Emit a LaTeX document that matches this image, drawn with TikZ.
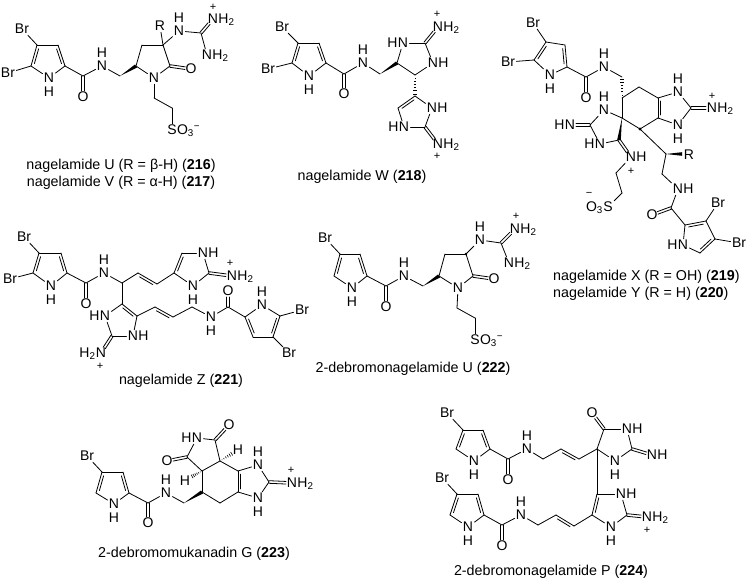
\documentclass[tikz,border=0pt]{standalone}
\usepackage{fontspec}
\setmainfont{Liberation Sans}
\usetikzlibrary{calc,positioning}
\newcommand{\atomfont}{\fontsize{14}{16}\selectfont}
\newcommand{\capfont}{\fontsize{14.3}{16}\selectfont}
\tikzset{
    bond/.style={line width=0.8pt,line cap=round,line join=round},
    atom/.style={inner sep=1.2pt,font=\atomfont},
    tail/.style={atom,anchor=base west,inner xsep=0pt,xshift=-1.2pt},
    head/.style={atom,anchor=base east,inner xsep=0pt,xshift=1.2pt},
    charge/.style={inner sep=0pt,font=\fontsize{11}{12}\selectfont},
    caption/.style={inner sep=0pt,font=\capfont}
}
% carbons and bond types
\newcommand{\atoms}[1]{\foreach \nm/\cx/\cy in {#1}{\coordinate (\nm) at (\cx,\cy);}}
\newcommand{\bonds}[1]{\foreach \pa/\pb in {#1}{\draw[bond] (\pa) -- (\pb);}}
\newcommand{\dbl}[2]{\draw[bond] (#1) -- (#2);
    \draw[bond] ($(#1)!.15!(#2)!2.6pt!90:(#2)$) -- ($(#2)!.15!(#1)!2.6pt!-90:(#1)$);}
\newcommand{\dblc}[2]{\draw[bond,shorten >=6pt] ($(#1)!1.3pt!90:(#2)$) -- ($(#2)!1.3pt!-90:(#1)$);
    \draw[bond,shorten >=6pt] ($(#1)!1.3pt!-90:(#2)$) -- ($(#2)!1.3pt!90:(#1)$);}
\newcommand{\wedgeb}[2]{\fill (#1) -- ($(#2)!1.8pt!90:(#1)$) -- ($(#2)!1.8pt!-90:(#1)$) -- cycle;}
\newcommand{\hashb}[2]{\foreach \t in {.15,.3,.45,.6,.75,.9}{\draw[line width=0.6pt]
    ($(#1)!\t!(#2)!\t*2.2pt!90:(#1)$) -- ($(#1)!\t!(#2)!\t*2.2pt!-90:(#1)$);}}
% nitrogen labels
\newcommand{\NHup}[2]{\node[atom] (#1) at (#2) {N}; \node[atom,above=1pt of #1] (#1h) {H};}
\newcommand{\NHdn}[2]{\node[atom] (#1) at (#2) {N}; \node[atom,below=1pt of #1] (#1h) {H};}
\newcommand{\NHr}[2]{\node[atom] (#1) at (#2) {N}; \node[tail] (#1h) at (#1.base east) {H};}
\newcommand{\NHl}[2]{\node[atom] (#1) at (#2) {N}; \node[head] (#1h) at (#1.base west) {H};}
\newcommand{\NHtwo}[2]{\node[atom] (#1) at (#2) {N}; \node[tail] (#1h) at (#1.base east) {H\textsubscript{2}};}
\begin{document}
\begin{tikzpicture}[x=1pt,y=-1pt]
    \useasboundingbox (0,0) rectangle (748,583);
    % --- nagelamide U/V ---
    \atoms{u1/37/45,u2/58/45,u3/65/66,u4/31/66,u5/83/76,u6/120/76,u7/136/66,u8/142/45,
        u9/163/45,u10/170/66,u11/154/98,u12/172/108,u14/201/33}
    \node[atom] (uBr1) at (22,29) {Br};
    \node[atom] (uBr2) at (8,73) {Br};
    \NHdn{uN1}{49,78}
    \node[atom] (uO1) at (83,97) {O};
    \NHup{uN2}{102,66}
    \node[atom] (uN3) at (154,78) {N};
    \node[atom] (uO2) at (191,69) {O};
    \node[atom] (uS) at (172,130) {S};
    \node[tail] (uSt) at (uS.base east) {O\textsubscript{3}\textsuperscript{−}};
    \node[atom] (uR) at (160,26) {R};
    \NHup{uN4}{179,31}
    \NHtwo{uN5}{213,19}
    \node[charge] (uP) at (213,7) {+};
    \NHtwo{uN6}{207,55}
    \bonds{u1/u2,u4/uN1,uN1/u3,u1/uBr1,u4/uBr2,u3/u5,u5/uN2,uN2/u6,u7/u8,u8/u9,u9/u10,
        u10/uN3,uN3/u7,uN3/u11,u11/u12,u12/uS,u9/uR,u9/uN4,uN4/u14,u14/uN6}
    \dbl{u1}{u4} \dbl{u3}{u2}
    \dblc{u5}{uO1} \dblc{u10}{uO2} \dblc{u14}{uN5}
    \wedgeb{u6}{u7}
    \node[caption] (cap216) at (121,166) {nagelamide U (R = β-H) (\textbf{216})};
    \node[caption] (cap217) at (121,183) {nagelamide V (R = α-H) (\textbf{217})};
    % --- nagelamide W ---
    \atoms{w1/298/43,w2/319/43,w3/326/63,w4/292/63,w5/344/74,w6/380/74,w7/397/63,w8/425/43,
        w9/415/75,w10/415/96,w11/398/108,w12/425/127}
    \node[atom] (wBr1) at (282,27) {Br};
    \node[atom] (wBr2) at (268,69) {Br};
    \NHdn{wN1}{309,76}
    \node[atom] (wO1) at (344,94) {O};
    \NHup{wN2}{363,63}
    \NHl{wN3}{403,43}
    \NHr{wN4}{433,63}
    \NHtwo{wN5}{438,27}
    \node[charge] (wP1) at (437,14) {+};
    \NHr{wN6}{432,108}
    \NHl{wN7}{404,127}
    \NHtwo{wN8}{438,144}
    \node[charge] (wP2) at (437,156) {+};
    \bonds{w1/w2,w4/wN1,wN1/w3,w1/wBr1,w4/wBr2,w3/w5,w5/wN2,wN2/w6,w7/wN3,wN3/w8,w8/wN4,
        wN4/w9,w9/w7,w10/wN6,wN6/w12,w12/wN7,wN7/w11}
    \dbl{w1}{w4} \dbl{w3}{w2} \dbl{w10}{w11}
    \dblc{w5}{wO1} \dblc{w8}{wN5} \dblc{w12}{wN8}
    \wedgeb{w6}{w7}
    \hashb{w9}{w10}
    \node[caption] (cap218) at (362,177) {nagelamide W (\textbf{218})};
    % --- nagelamide X/Y ---
    \atoms{x1/546/42,x2/565/45,x3/567/67,x4/534/60,x5/586/77,x6/622/77,x7/622/98,x8/639/87,
        x9/658/98,x10/658/118,x11/640/129,x12/622/118,x13/691/108,x14/590/125,x15/619/140,
        x16/616/173,x17/622/193,x18/666/154,x19/682/154,x20/662/174,x21/671/208,x22/685/225,
        x23/706/221,x24/715/239,x25/700/253}
    \node[atom] (xBr1) at (533,23) {Br};
    \node[atom] (xBr2) at (508,62) {Br};
    \NHdn{xN1}{550,75}
    \node[atom] (xO1) at (586,98) {O};
    \NHup{xN2}{604,67}
    \NHup{xN3}{678,92}
    \NHdn{xN4}{678,125}
    \NHtwo{xN5}{712,108}
    \node[charge] (xP1) at (712,96) {+};
    \NHup{xN6}{604,110}
    \NHl{xN7}{570,125}
    \NHl{xN8}{600,144}
    \NHr{xN9}{631,157}
    \node[charge] (xP2) at (631,171) {+};
    \node[atom] (xS) at (608,207) {S};
    \node[head] (xSh) at (xS.base west) {O\textsubscript{3}};
    \node[charge] (xM) at (589,194) {−};
    \node[atom] (xR) at (689,155) {R};
    \NHr{xN10}{678,189}
    \node[atom] (xO2) at (652,215) {O};
    \NHl{xN11}{683,245}
    \node[atom] (xBr3) at (718,203) {Br};
    \node[atom] (xBr4) at (739,243) {Br};
    \bonds{x1/x2,x4/xN1,xN1/x3,x1/xBr1,x4/xBr2,x3/x5,x5/xN2,xN2/x6,x7/x8,x8/x9,x10/x11,
        x11/x12,x12/x7,x9/xN3,xN3/x13,x13/xN4,xN4/x10,x12/xN6,xN6/x14,x14/xN8,xN8/x15,
        xN9/x16,x16/x17,x17/xS,x11/x18,x18/x20,x20/xN10,xN10/x21,x21/x22,x22/xN11,xN11/x25,
        x23/x24,x23/xBr3,x24/xBr4}
    \dbl{x1}{x4} \dbl{x3}{x2} \dbl{x9}{x10} \dbl{x25}{x24} \dbl{x23}{x22}
    \dblc{x5}{xO1} \dblc{x13}{xN5} \dblc{x14}{xN7} \dblc{x15}{xN9} \dblc{x21}{xO2}
    \wedgeb{x12}{x15} \wedgeb{x18}{x19}
    \hashb{x7}{x6}
    \fill (x11) circle (1.6pt);
    \node[caption,anchor=west] (cap219) at (553,277) {nagelamide X (R = OH) (\textbf{219})};
    \node[caption,anchor=west] (cap220) at (553,294) {nagelamide Y (R = H) (\textbf{220})};
    % --- nagelamide Z ---
    \atoms{z1/39/253,z2/61/253,z3/67/273,z4/33/273,z5/86/283,z6/122/283,z7/138/273,z8/157/284,
        z9/174/273,z10/182/253,z11/209/273,z12/122/304,z13/137/316,z14/112/336,z15/155/307,
        z16/173/317,z17/192/307,z18/228/307,z19/245/317,z20/253/337,z21/273/337,z22/280/316}
    \node[atom] (zBr1) at (24,237) {Br};
    \node[atom] (zBr2) at (10,279) {Br};
    \NHdn{zN1}{51,286}
    \node[atom] (zO1) at (86,304) {O};
    \NHup{zN2}{104,273}
    \NHr{zN3}{203,253}
    \NHdn{zN4}{193,286}
    \NHtwo{zN5}{232,276}
    \node[charge] (zP1) at (230,263) {+};
    \NHl{zN6}{105,316}
    \NHr{zN7}{133,336}
    \node[atom] (zN8) at (101,353) {N};
    \node[head] (zN8h) at (zN8.base west) {H\textsubscript{2}};
    \node[charge] (zP2) at (100,366) {+};
    \NHdn{zN9}{211,317}
    \node[atom] (zO2) at (228,291) {O};
    \NHup{zN10}{262,305}
    \node[atom] (zBr3) at (302,310) {Br};
    \node[atom] (zBr4) at (289,353) {Br};
    \bonds{z1/z2,z4/zN1,zN1/z3,z1/zBr1,z4/zBr2,z3/z5,z5/zN2,zN2/z6,z6/z7,z8/z9,z9/zN4,zN4/z11,
        z11/zN3,zN3/z10,z6/z12,z12/zN6,zN6/z14,z14/zN7,zN7/z13,z13/z15,z16/z17,z17/zN9,
        zN9/z18,z18/z19,z19/zN10,zN10/z22,z20/z21,z21/zBr4,z22/zBr3}
    \dbl{z1}{z4} \dbl{z3}{z2} \dbl{z8}{z7} \dbl{z10}{z9} \dbl{z13}{z12} \dbl{z16}{z15}
    \dbl{z19}{z20} \dbl{z21}{z22}
    \dblc{z5}{zO1} \dblc{z11}{zN5} \dblc{z14}{zN8} \dblc{z18}{zO2}
    \node[caption] (cap221) at (181,381) {nagelamide Z (\textbf{221})};
    % --- 2-debromonagelamide U ---
    \atoms{d1/340/254,d2/360/254,d3/367/276,d4/334/276,d5/386/286,d6/423/286,d7/439/276,
        d8/445/254,d9/466/254,d10/473/276,d11/457/308,d12/475/318,d13/501/243}
    \node[atom] (dBr) at (325,238) {Br};
    \NHdn{dN1}{352,288}
    \node[atom] (dO1) at (386,307) {O};
    \NHup{dN2}{404,276}
    \node[atom] (dN3) at (458,288) {N};
    \node[atom] (dO2) at (494,279) {O};
    \node[atom] (dS) at (475,340) {S};
    \node[tail] (dSt) at (dS.base east) {O\textsubscript{3}\textsuperscript{−}};
    \NHup{dN4}{480,240}
    \NHtwo{dN5}{515,229}
    \node[charge] (dP) at (516,216) {+};
    \NHtwo{dN6}{509,263}
    \bonds{d1/d2,d4/dN1,dN1/d3,d1/dBr,d3/d5,d5/dN2,dN2/d6,d7/d8,d8/d9,d9/d10,d10/dN3,dN3/d7,
        dN3/d11,d11/d12,d12/dS,d9/dN4,dN4/d13,d13/dN6}
    \dbl{d1}{d4} \dbl{d3}{d2}
    \dblc{d5}{dO1} \dblc{d10}{dO2} \dblc{d13}{dN5}
    \wedgeb{d6}{d7}
    \fill (d9) circle (1.4pt);
    \node[caption] (cap222) at (413,369) {2-debromonagelamide U (\textbf{222})};
    % --- 2-debromomukanadin G ---
    \atoms{g1/102/472,g2/123/472,g3/129/493,g4/96/493,g5/148/503,g6/184/503,g7/202/492,
        g8/220/503,g9/238/492,g10/238/471,g11/220/461,g12/202/471,g13/215/440,g14/187/457,
        g15/233/453,g16/269/482,g17/191/477}
    \node[atom] (gBr) at (87,456) {Br};
    \NHdn{gN1}{114,504}
    \node[atom] (gO1) at (148,523) {O};
    \NHup{gN2}{166,493}
    \NHl{gN3}{197,438}
    \node[atom] (gO2) at (167,461) {O};
    \node[atom] (gO3) at (229,425) {O};
    \node[atom] (gH1) at (238,450) {H};
    \node[atom] (gH2) at (185,481) {H};
    \NHup{gN4}{258,465}
    \NHdn{gN5}{258,498}
    \NHtwo{gN6}{292,483}
    \node[charge] (gP) at (291,470) {+};
    \bonds{g1/g2,g4/gN1,gN1/g3,g1/gBr,g3/g5,g5/gN2,gN2/g6,g7/g8,g8/g9,g10/g11,g11/g12,g12/g7,
        g11/g13,g13/gN3,gN3/g14,g14/g12,g10/gN4,gN4/g16,g16/gN5,gN5/g9}
    \dbl{g1}{g4} \dbl{g3}{g2} \dbl{g10}{g9}
    \dblc{g5}{gO1} \dblc{g14}{gO2} \dblc{g13}{gO3} \dblc{g16}{gN6}
    \wedgeb{g6}{g7}
    \hashb{g11}{g15} \hashb{g12}{g17}
    \node[caption] (cap223) at (194,554) {2-debromomukanadin G (\textbf{223})};
    % --- 2-debromonagelamide P ---
    \atoms{p1/463/430,p2/483/430,p3/490/449,p4/456/449,p5/508/459,p6/543/459,p7/561/449,
        p8/579/459,p9/597/449,p10/604/429,p11/632/449,p12/597/494,p13/627/515,p14/592/515,
        p15/574/526,p16/556/515,p17/538/525,p18/502/525,p19/484/515,p20/478/494,p21/457/494,
        p22/450/515}
    \node[atom] (pBr1) at (447,413) {Br};
    \NHdn{pN1}{474,461}
    \node[atom] (pO1) at (508,480) {O};
    \NHup{pN2}{527,449}
    \node[atom] (pO2) at (592,413) {O};
    \NHr{pN3}{627,429}
    \NHr{pN4}{652,455}
    \NHdn{pN5}{615,461}
    \NHr{pN6}{621,494}
    \NHdn{pN7}{611,527}
    \NHtwo{pN8}{647,517}
    \node[charge] (pP) at (647,530) {+};
    \NHup{pN9}{521,515}
    \node[atom] (pO3) at (502,546) {O};
    \NHdn{pN10}{468,527}
    \node[atom] (pBr2) at (442,478) {Br};
    \bonds{p1/p2,p4/pN1,pN1/p3,p1/pBr1,p3/p5,p5/pN2,pN2/p6,p6/p7,p8/p9,p9/p10,p10/pN3,pN3/p11,
        p11/pN5,pN5/p9,p9/p12,p12/pN6,pN6/p13,p13/pN7,pN7/p14,p14/p15,p16/p17,p17/pN9,pN9/p18,
        p18/p19,p19/pN10,pN10/p22,p21/p20,p21/pBr2}
    \dbl{p1}{p4} \dbl{p3}{p2} \dbl{p8}{p7} \dbl{p12}{p14} \dbl{p15}{p16}
    \dbl{p21}{p22} \dbl{p19}{p20}
    \dblc{p5}{pO1} \dblc{p10}{pO2} \dblc{p11}{pN4} \dblc{p13}{pN8} \dblc{p18}{pO3}
    \node[caption] (cap224) at (551,572) {2-debromonagelamide P (\textbf{224})};
\end{tikzpicture}
\end{document}
